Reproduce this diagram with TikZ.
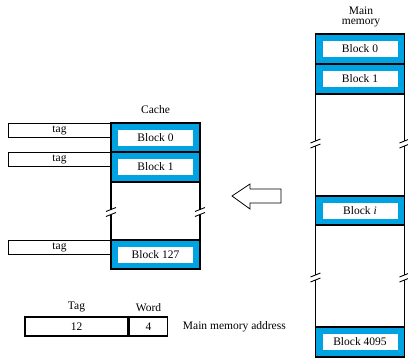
\documentclass[tikz,border=0pt]{standalone}
\usepackage{fontspec}
\setmainfont{Liberation Serif}
\usetikzlibrary{positioning}
\definecolor{blockblue}{RGB}{0,163,226}
\tikzset{
  every node/.style={font=\fontsize{11.5}{13}\selectfont},
  cell/.style={draw,line width=1.6pt,fill=blockblue,minimum width=89pt,minimum height=29.5pt,inner sep=0pt},
  slot/.style={fill=white,minimum width=75pt,minimum height=16pt,inner sep=0pt},
  tagbox/.style={draw,line width=0.7pt,minimum width=103pt,minimum height=14pt,inner sep=0pt},
  addr/.style={draw,line width=1.6pt,minimum height=19pt,inner sep=0pt},
  wall/.style={line width=1.6pt},
  brk/.pic={
    \draw[line width=0.9pt] (-5,0) -- (5,-4);
    \draw[line width=0.9pt] (-5,5) -- (5,1);
  }
}

\begin{document}
\begin{tikzpicture}[x=1pt,y=-1pt]
\useasboundingbox (0,0) rectangle (408,357);
% cache
\node (cachelbl) at (155.5,110) {Cache};
\node[tagbox] (t0) at (59.5,130) {tag};
\node[tagbox] (t1) at (59.5,159) {tag};
\node[tagbox] (t127) at (59.5,247.5) {tag};
\node[cell] (c0) at (155.5,137.5) {};
\node[slot] (s0) at (c0) {Block 0};
\node[cell] (c1) at (155.5,167) {};
\node[slot] (s1) at (c1) {Block 1};
\node[cell] (c127) at (155.5,254.5) {};
\node[slot] (s127) at (c127) {Block 127};
\foreach \x in {111,200} {
  \draw[wall] (\x,181.75) -- (\x,209.5);
  \draw[wall] (\x,214.5) -- (\x,239.75);
  \pic at (\x,211.5) {brk};
}
% main memory
\node[align=center,font=\fontsize{11.5}{10}\selectfont] (memlbl) at (361,17) {Main\\memory};
\node[cell] (m0) at (360,49) {};
\node[slot] (n0) at (m0) {Block 0};
\node[cell] (m1) at (360,79) {};
\node[slot] (n1) at (m1) {Block 1};
\node[cell] (mi) at (360,210.5) {};
\node[slot] (ni) at (mi) {Block \textit{i}};
\node[cell] (m4095) at (360,342) {};
\node[slot] (n4095) at (m4095) {Block 4095};
\foreach \x in {315.5,404.5} {
  \draw[wall] (\x,93.75) -- (\x,141);
  \draw[wall] (\x,146) -- (\x,195.75);
  \pic at (\x,143) {brk};
  \draw[wall] (\x,225.25) -- (\x,275);
  \draw[wall] (\x,280) -- (\x,327.25);
  \pic at (\x,277) {brk};
}
% hollow arrow
\draw[line width=0.8pt] (232,196) -- (250,184) -- (250,189) -- (281,189) -- (281,203) -- (250,203) -- (250,209) -- cycle;
% address
\node[addr,minimum width=103pt] (tagf) at (76.5,326.5) {12};
\node[addr,minimum width=38pt,anchor=west] (wordf) at (tagf.east) {4};
\node[above=1pt of tagf] (taglbl) {Tag};
\node[above=1pt of wordf] (wordlbl) {Word};
\node[right=11pt of wordf] (addrlbl) {Main memory address};
\end{tikzpicture}
\end{document}
